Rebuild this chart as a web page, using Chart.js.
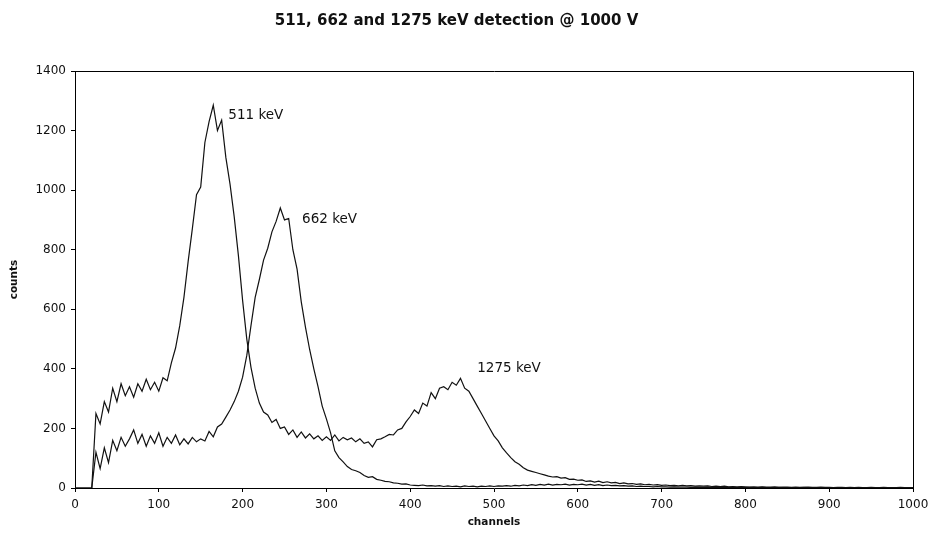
<!DOCTYPE html>
<html>
<head>
<meta charset="utf-8">
<script src="https://cdn.jsdelivr.net/npm/chart.js@4.4.1/dist/chart.umd.min.js"></script>
<style>
  html, body { margin: 0; padding: 0; background: #ffffff; }
  #wrap { width: 928px; height: 540px; }
</style>
</head>
<body>
<div id="wrap"><canvas id="c" width="928" height="540"></canvas></div>
<script>
// ---- data ----
const chartTitle = '511, 662 and 1275 keV detection @ 1000 V';
const xAxisTitle = 'channels';
const yAxisTitle = 'counts';

// channel grid (every 5th channel)
const channels = Array.from({ length: 201 }, (_, i) => i * 5);

// Na-22 spectrum: 511 keV peak + 1275 keV peak
const na22Counts = [
  0, 0, 0, 0, 0, 250, 215, 290, 255, 335, 290, 350, 310, 340, 305, 350, 325, 365, 330, 355,
  325, 370, 360, 420, 470, 545, 640, 760, 870, 985, 1010, 1160, 1230, 1285, 1200, 1235, 1110, 1020, 910, 780,
  630, 500, 405, 335, 285, 255, 245, 220, 230, 200, 205, 180, 195, 170, 188, 168, 182, 165, 175, 160,
  172, 160, 178, 158, 170, 162, 168, 155, 165, 150, 155, 138, 162, 165, 172, 180, 178, 195, 200, 222,
  240, 262, 250, 285, 275, 320, 300, 335, 340, 330, 355, 345, 368, 335, 325, 300, 275, 250, 225, 200,
  175, 158, 135, 118, 102, 88, 80, 68, 60, 56, 52, 48, 44, 40, 37, 38, 33, 35, 29, 30,
  26, 27, 22, 24, 20, 23, 18, 21, 17, 19, 15, 17, 14, 15, 12, 14, 11, 12, 10, 11,
  9, 10, 8, 9, 7, 9, 7, 8, 6, 7, 6, 7, 5, 6, 5, 6, 4, 5, 4, 5,
  4, 3, 4, 3, 4, 3, 3, 4, 2, 3, 3, 2, 3, 2, 2, 3, 2, 2, 3, 2,
  2, 1, 2, 2, 1, 2, 1, 2, 1, 1, 2, 1, 1, 2, 1, 1, 1, 2, 1, 1, 1
];

// Cs-137 spectrum: 662 keV peak
const cs137Counts = [
  0, 0, 0, 0, 0, 120, 65, 135, 85, 160, 125, 170, 140, 165, 195, 150, 180, 140, 175, 150,
  185, 140, 170, 150, 178, 145, 165, 148, 170, 155, 165, 158, 190, 172, 205, 215, 238, 262, 290, 325,
  372, 445, 545, 640, 700, 765, 805, 860, 895, 940, 900, 905, 800, 735, 625, 540, 465, 400, 340, 275,
  232, 185, 125, 102, 88, 72, 62, 58, 52, 42, 36, 38, 29, 26, 22, 21, 17, 16, 13, 14,
  10, 9, 8, 10, 7, 8, 6, 8, 5, 7, 5, 6, 4, 7, 5, 6, 4, 6, 5, 7,
  5, 7, 6, 8, 6, 9, 7, 10, 8, 11, 9, 12, 10, 13, 10, 12, 11, 13, 10, 12,
  11, 13, 10, 12, 9, 11, 8, 10, 8, 9, 7, 8, 6, 7, 5, 6, 5, 5, 4, 5,
  4, 4, 3, 4, 3, 3, 3, 2, 3, 2, 2, 3, 2, 2, 2, 1, 2, 2, 1, 2,
  1, 2, 1, 1, 2, 1, 1, 1, 2, 1, 1, 1, 1, 1, 2, 1, 1, 1, 1, 1,
  1, 1, 0, 1, 1, 0, 1, 1, 1, 0, 1, 1, 0, 1, 1, 1, 0, 1, 1, 0, 1
];

// peak annotations (text, channel, count where the text sits)
const peakLabels = ['511 keV', '662 keV', '1275 keV'];
const peakLabelChannels = [183, 271, 480];
const peakLabelCounts = [1252, 903, 400];

// tick labels
const xTickValues = [0, 100, 200, 300, 400, 500, 600, 700, 800, 900, 1000];
const yTickValues = [0, 200, 400, 600, 800, 1000, 1200, 1400];

// ---- chart ----
const ink = '#111111';
const toPoints = (ys) => channels.map((c, i) => ({ x: c, y: ys[i] }));

const framePlugin = {
  id: 'frame',
  afterDatasetsDraw(chart) {
    const { ctx, chartArea: a } = chart;
    ctx.save();
    ctx.strokeStyle = '#000';
    ctx.lineWidth = 1;
    ctx.beginPath();
    ctx.moveTo(Math.round(a.left) + 0.5, Math.round(a.top) + 0.5);
    ctx.lineTo(Math.round(a.right) + 0.5, Math.round(a.top) + 0.5);
    ctx.lineTo(Math.round(a.right) + 0.5, Math.round(a.bottom) + 0.5);
    ctx.stroke();
    ctx.restore();
  }
};

const peakLabelPlugin = {
  id: 'peakLabels',
  afterDatasetsDraw(chart) {
    const { ctx, scales } = chart;
    ctx.save();
    ctx.fillStyle = ink;
    ctx.font = '13.5px "DejaVu Sans"';
    ctx.textAlign = 'left';
    ctx.textBaseline = 'middle';
    peakLabels.forEach((t, i) => {
      ctx.fillText(t, scales.x.getPixelForValue(peakLabelChannels[i]), scales.y.getPixelForValue(peakLabelCounts[i]));
    });
    ctx.restore();
  }
};

new Chart(document.getElementById('c'), {
  type: 'line',
  data: {
    datasets: [
      { label: 'Na-22', data: toPoints(na22Counts), borderColor: ink, borderWidth: 1.2, pointRadius: 0, tension: 0, fill: false },
      { label: 'Cs-137', data: toPoints(cs137Counts), borderColor: ink, borderWidth: 1.2, pointRadius: 0, tension: 0, fill: false }
    ]
  },
  options: {
    responsive: false,
    animation: false,
    devicePixelRatio: 1,
    layout: { padding: { left: 0, right: 15, top: 0, bottom: 0 } },
    plugins: {
      legend: { display: false },
      tooltip: { enabled: false },
      title: {
        display: true,
        text: chartTitle,
        color: ink,
        font: { family: 'DejaVu Sans', size: 15, weight: 'bold' },
        padding: { top: 12, bottom: 41 }
      }
    },
    scales: {
      x: {
        type: 'linear',
        min: 0,
        max: 1000,
        afterBuildTicks(s) { s.ticks = xTickValues.map(v => ({ value: v })); },
        afterFit(s) { s.height = 52; s.paddingLeft = 0; s.paddingRight = 0; },
        ticks: { color: ink, font: { family: 'DejaVu Sans', size: 12 }, padding: 6, maxRotation: 0, autoSkip: false, callback: (v) => String(v) },
        grid: { display: true, drawOnChartArea: false, drawTicks: true, tickLength: 4, color: '#000' },
        border: { display: true, color: '#000', width: 1 },
        title: {
          display: true, text: xAxisTitle, color: ink,
          font: { family: 'DejaVu Sans', size: 10.5, weight: 'bold' },
          padding: { top: 0, bottom: 11 }
        }
      },
      y: {
        type: 'linear',
        min: 0,
        max: 1400,
        afterBuildTicks(s) { s.ticks = yTickValues.map(v => ({ value: v })); },
        afterFit(s) { s.width = 75; },
        ticks: { color: ink, font: { family: 'DejaVu Sans', size: 12 }, padding: 5, autoSkip: false, callback: (v) => String(v) },
        grid: { display: true, drawOnChartArea: false, drawTicks: true, tickLength: 4, color: '#000' },
        border: { display: true, color: '#000', width: 1 },
        title: {
          display: true, text: yAxisTitle, color: ink,
          font: { family: 'DejaVu Sans', size: 10.5, weight: 'bold' },
          padding: { top: 8, bottom: 0 }
        }
      }
    }
  },
  plugins: [framePlugin, peakLabelPlugin]
});
</script>
</body>
</html>
